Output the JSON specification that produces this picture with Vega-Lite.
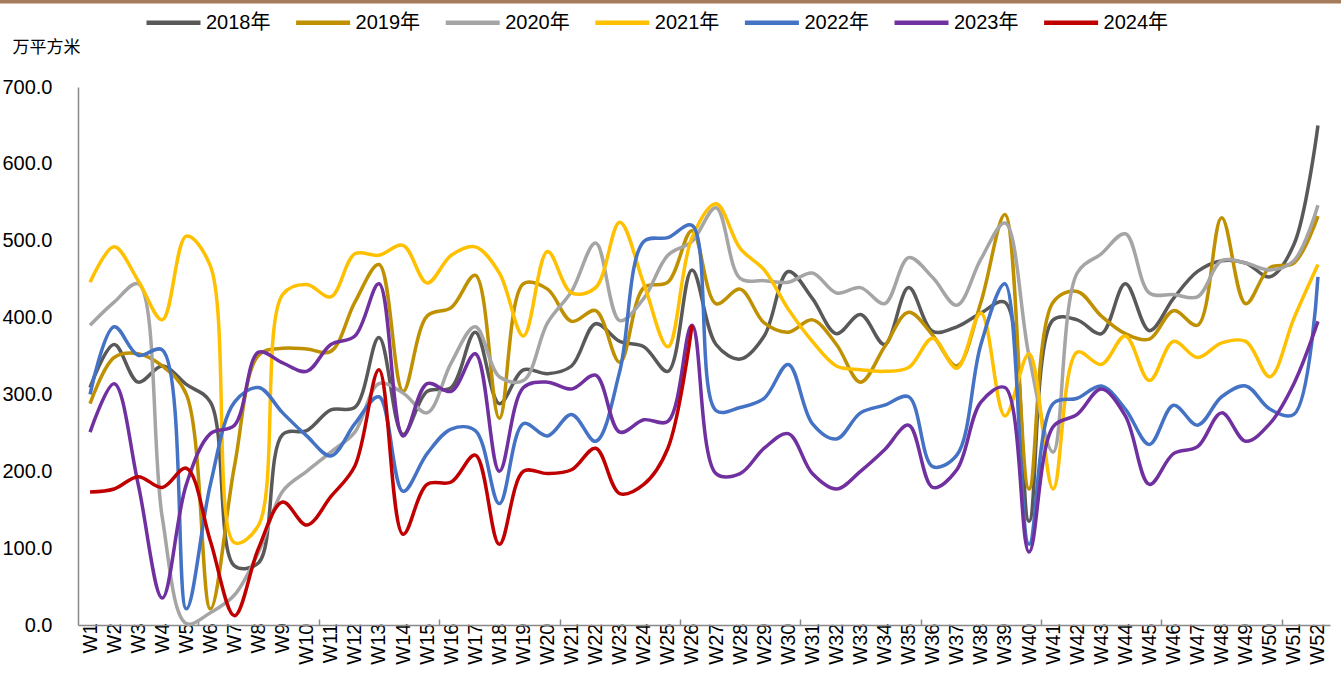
{
  "$schema": "https://vega.github.io/schema/vega-lite/v6.json",
  "width": 1252,
  "height": 538,
  "autosize": {"type": "none"},
  "padding": {"left": 78, "top": 87, "right": 11, "bottom": 55},
  "background": "white",
  "config": {"view": {"stroke": null}, "font": "Liberation Sans"},
  "datasets": {
    "weekly": [
      {"week": 1, "2018年": 309, "2019年": 288, "2020年": 390, "2021年": 446, "2022年": 300, "2023年": 251, "2024年": 173},
      {"week": 2, "2018年": 365, "2019年": 348, "2020年": 420, "2021年": 492, "2022年": 388, "2023年": 314, "2024年": 177},
      {"week": 3, "2018年": 316, "2019年": 353, "2020年": 444, "2021年": 448, "2022年": 351, "2023年": 183, "2024年": 193},
      {"week": 4, "2018年": 337, "2019年": 337, "2020年": 140, "2021年": 397, "2022年": 358, "2023年": 35, "2024年": 179},
      {"week": 5, "2018年": 313, "2019年": 300, "2020年": 2, "2021年": 506, "2022年": 21, "2023年": 183, "2024年": 204},
      {"week": 6, "2018年": 290, "2019年": 21, "2020年": 16, "2021年": 467, "2022年": 183, "2023年": 249, "2024年": 109},
      {"week": 7, "2018年": 77, "2019年": 207, "2020年": 39, "2021年": 107, "2022年": 290, "2023年": 260, "2024年": 12},
      {"week": 8, "2018年": 81, "2019年": 351, "2020年": 95, "2021年": 130, "2022年": 309, "2023年": 355, "2024年": 100},
      {"week": 9, "2018年": 248, "2019年": 360, "2020年": 174, "2021年": 430, "2022年": 276, "2023年": 341, "2024年": 160},
      {"week": 10, "2018年": 253, "2019年": 359, "2020年": 200, "2021年": 443, "2022年": 246, "2023年": 330, "2024年": 130},
      {"week": 11, "2018年": 280, "2019年": 356, "2020年": 225, "2021年": 427, "2022年": 220, "2023年": 365, "2024年": 167},
      {"week": 12, "2018年": 283, "2019年": 420, "2020年": 251, "2021年": 483, "2022年": 262, "2023年": 376, "2024年": 207},
      {"week": 13, "2018年": 374, "2019年": 469, "2020年": 314, "2021年": 481, "2022年": 297, "2023年": 444, "2024年": 332},
      {"week": 14, "2018年": 248, "2019年": 304, "2020年": 302, "2021年": 494, "2022年": 174, "2023年": 246, "2024年": 118},
      {"week": 15, "2018年": 304, "2019年": 402, "2020年": 276, "2021年": 445, "2022年": 223, "2023年": 314, "2024年": 183},
      {"week": 16, "2018年": 309, "2019年": 413, "2020年": 341, "2021年": 481, "2022年": 255, "2023年": 304, "2024年": 186},
      {"week": 17, "2018年": 381, "2019年": 455, "2020年": 388, "2021年": 492, "2022年": 253, "2023年": 353, "2024年": 221},
      {"week": 18, "2018年": 288, "2019年": 269, "2020年": 323, "2021年": 458, "2022年": 158, "2023年": 200, "2024年": 105},
      {"week": 19, "2018年": 332, "2019年": 444, "2020年": 318, "2021年": 376, "2022年": 262, "2023年": 309, "2024年": 200},
      {"week": 20, "2018年": 327, "2019年": 437, "2020年": 393, "2021年": 486, "2022年": 246, "2023年": 316, "2024年": 197},
      {"week": 21, "2018年": 337, "2019年": 395, "2020年": 434, "2021年": 432, "2022年": 274, "2023年": 307, "2024年": 202},
      {"week": 22, "2018年": 392, "2019年": 409, "2020年": 497, "2021年": 439, "2022年": 239, "2023年": 325, "2024年": 230},
      {"week": 23, "2018年": 369, "2019年": 342, "2020年": 396, "2021年": 524, "2022年": 330, "2023年": 251, "2024年": 171},
      {"week": 24, "2018年": 362, "2019年": 439, "2020年": 425, "2021年": 444, "2022年": 499, "2023年": 267, "2024年": 183},
      {"week": 25, "2018年": 330, "2019年": 446, "2020年": 481, "2021年": 362, "2022年": 504, "2023年": 265, "2024年": 230},
      {"week": 26, "2018年": 462, "2019年": 513, "2020年": 499, "2021年": 504, "2022年": 520, "2023年": 390, "2024年": 390},
      {"week": 27, "2018年": 365, "2019年": 418, "2020年": 543, "2021年": 548, "2022年": 279, "2023年": 197},
      {"week": 28, "2018年": 346, "2019年": 437, "2020年": 451, "2021年": 490, "2022年": 283, "2023年": 197},
      {"week": 29, "2018年": 376, "2019年": 393, "2020年": 448, "2021年": 462, "2022年": 295, "2023年": 230},
      {"week": 30, "2018年": 460, "2019年": 381, "2020年": 446, "2021年": 411, "2022年": 339, "2023年": 249},
      {"week": 31, "2018年": 425, "2019年": 397, "2020年": 458, "2021年": 369, "2022年": 262, "2023年": 197},
      {"week": 32, "2018年": 379, "2019年": 365, "2020年": 432, "2021年": 337, "2022年": 242, "2023年": 177},
      {"week": 33, "2018年": 404, "2019年": 316, "2020年": 439, "2021年": 332, "2022年": 276, "2023年": 200},
      {"week": 34, "2018年": 365, "2019年": 362, "2020年": 418, "2021年": 330, "2022年": 286, "2023年": 228},
      {"week": 35, "2018年": 439, "2019年": 407, "2020年": 478, "2021年": 335, "2022年": 297, "2023年": 260},
      {"week": 36, "2018年": 382, "2019年": 377, "2020年": 452, "2021年": 373, "2022年": 206, "2023年": 179},
      {"week": 37, "2018年": 388, "2019年": 337, "2020年": 416, "2021年": 334, "2022年": 221, "2023年": 202},
      {"week": 38, "2018年": 406, "2019年": 420, "2020年": 476, "2021年": 406, "2022年": 365, "2023年": 290},
      {"week": 39, "2018年": 420, "2019年": 534, "2020年": 523, "2021年": 272, "2022年": 444, "2023年": 309},
      {"week": 40, "2018年": 135, "2019年": 177, "2020年": 350, "2021年": 353, "2022年": 105, "2023年": 95},
      {"week": 41, "2018年": 397, "2019年": 420, "2020年": 225, "2021年": 177, "2022年": 288, "2023年": 258},
      {"week": 42, "2018年": 397, "2019年": 434, "2020年": 458, "2021年": 355, "2022年": 295, "2023年": 274},
      {"week": 43, "2018年": 379, "2019年": 402, "2020年": 483, "2021年": 339, "2022年": 311, "2023年": 307},
      {"week": 44, "2018年": 444, "2019年": 379, "2020年": 509, "2021年": 376, "2022年": 281, "2023年": 272},
      {"week": 45, "2018年": 383, "2019年": 372, "2020年": 432, "2021年": 318, "2022年": 235, "2023年": 183},
      {"week": 46, "2018年": 425, "2019年": 409, "2020年": 430, "2021年": 369, "2022年": 286, "2023年": 223},
      {"week": 47, "2018年": 460, "2019年": 390, "2020年": 427, "2021年": 348, "2022年": 260, "2023年": 232},
      {"week": 48, "2018年": 474, "2019年": 530, "2020年": 474, "2021年": 367, "2022年": 297, "2023年": 276},
      {"week": 49, "2018年": 471, "2019年": 418, "2020年": 471, "2021年": 369, "2022年": 311, "2023年": 239},
      {"week": 50, "2018年": 453, "2019年": 465, "2020年": 462, "2021年": 323, "2022年": 281, "2023年": 262},
      {"week": 51, "2018年": 495, "2019年": 471, "2020年": 474, "2021年": 399, "2022年": 274, "2023年": 314},
      {"week": 52, "2018年": 650, "2019年": 532, "2020年": 546, "2021年": 469, "2022年": 453, "2023年": 395}
    ]
  },
  "layer": [
    {
      "data": {"name": "weekly"},
      "transform": [
        {"fold": ["2018年", "2019年", "2020年", "2021年", "2022年", "2023年", "2024年"], "as": ["year", "value"]},
        {"filter": "isValid(datum.value)"}
      ],
      "mark": {"type": "line", "interpolate": "catmull-rom", "strokeWidth": 3.5, "clip": false},
      "encoding": {
        "x": {
          "field": "week",
          "type": "quantitative",
          "scale": {"domain": [0.5, 52.5], "nice": false, "zero": false},
          "axis": {
            "title": null,
            "values": [1,2,3,4,5,6,7,8,9,10,11,12,13,14,15,16,17,18,19,20,21,22,23,24,25,26,27,28,29,30,31,32,33,34,35,36,37,38,39,40,41,42,43,44,45,46,47,48,49,50,51,52],
            "tickCount": 60,
            "labelExpr": "'W' + datum.value",
            "labelAngle": -90,
            "labelFontSize": 20,
            "labelFont": "Liberation Sans",
            "labelColor": "#000000",
            "labelPadding": 4,
            "labelOverlap": false,
            "labelFlush": false,
            "labelBound": false,
            "tickSize": -6,
            "tickOffset": 12.04,
            "labelOffset": -12.04,
            "tickColor": "#898989",
            "tickWidth": 1.5,
            "tickOpacity": {"condition": {"test": "datum.value % 5 === 0", "value": 1}, "value": 0},
            "domainColor": "#898989",
            "domainWidth": 1.5,
            "grid": false
          }
        },
        "y": {
          "field": "value",
          "type": "quantitative",
          "scale": {"domain": [0, 700], "nice": false},
          "axis": {
            "values": [0, 100, 200, 300, 400, 500, 600, 700],
            "format": ".1f",
            "labelFontSize": 20,
            "labelFont": "Liberation Sans",
            "labelColor": "#000000",
            "labelPadding": 26,
            "ticks": false,
            "grid": false,
            "domainColor": "#898989",
            "domainWidth": 1.5,
            "title": "万平方米",
            "titleAngle": 0,
            "titleAlign": "left",
            "titleBaseline": "middle",
            "titleX": -66,
            "titleY": -40,
            "titleFont": "Noto Sans CJK SC",
            "titleFontSize": 17,
            "titleFontWeight": "normal",
            "titleColor": "#000000"
          }
        },
        "color": {
          "field": "year",
          "type": "nominal",
          "scale": {
            "domain": ["2018年", "2019年", "2020年", "2021年", "2022年", "2023年", "2024年"],
            "range": ["#595959", "#BF9000", "#A5A5A5", "#FFC000", "#4472C4", "#7030A0", "#C00000"]
          },
          "legend": {
            "title": null,
            "orient": "none",
            "legendX": 66,
            "legendY": -94,
            "direction": "horizontal",
            "symbolType": "stroke",
            "symbolSize": 2916,
            "symbolStrokeWidth": 4.5,
            "labelFontSize": 20,
            "labelFont": "Liberation Sans, Noto Sans CJK SC",
            "labelColor": "#000000",
            "labelOffset": 3,
            "columnPadding": 15.6
          }
        }
      }
    },
    {
      "data": {"values": [{}]},
      "mark": {"type": "rule", "color": "#A67B5B", "strokeWidth": 3.5, "clip": false},
      "encoding": {
        "x": {"datum": -2.74, "type": "quantitative"},
        "x2": {"datum": 52.96},
        "y": {"datum": 811, "type": "quantitative"}
      }
    }
  ]
}
